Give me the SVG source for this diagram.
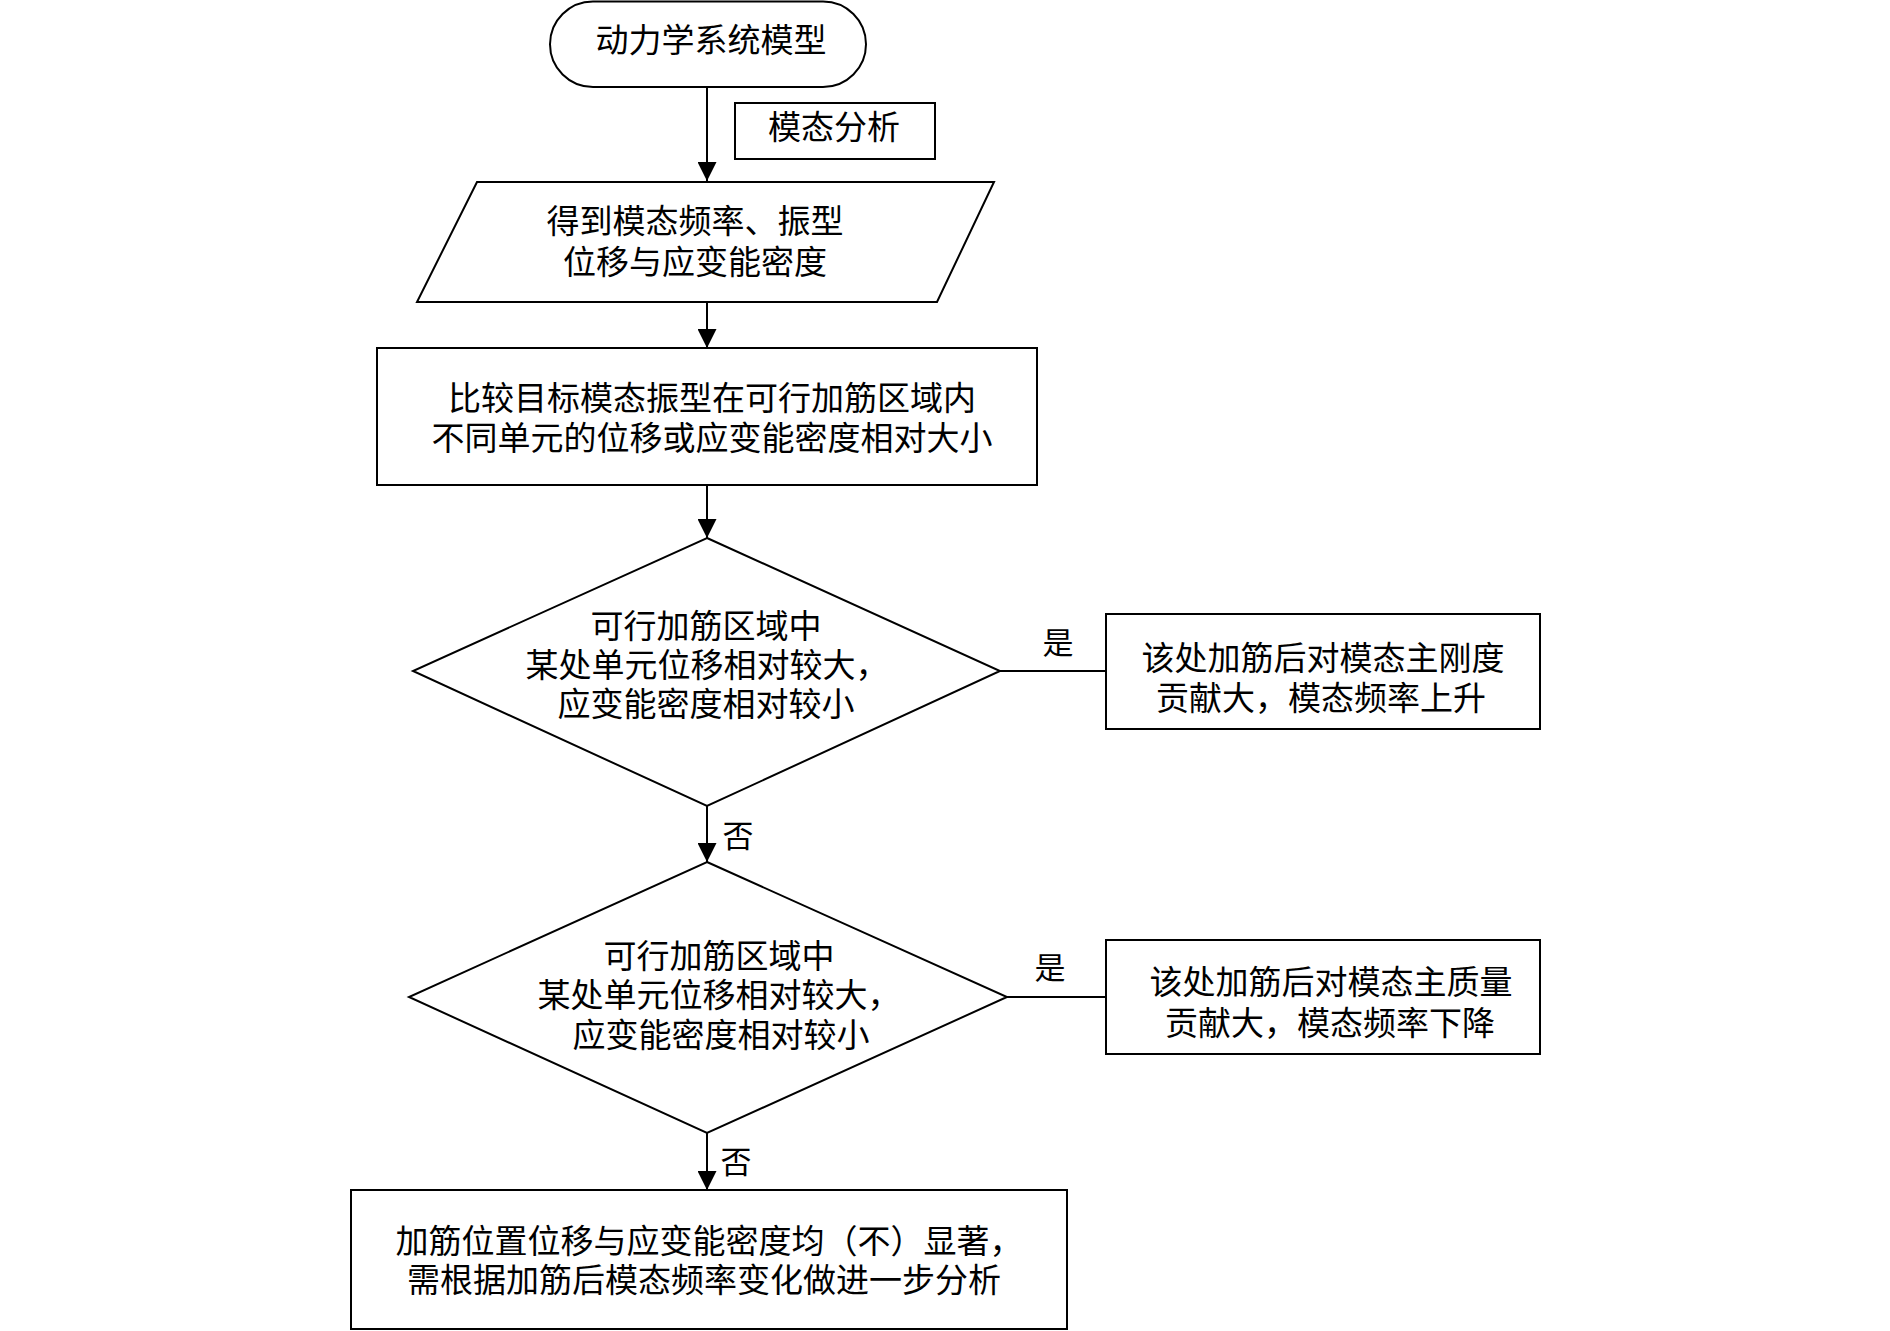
<svg xmlns="http://www.w3.org/2000/svg" width="1890" height="1331" viewBox="0 0 1890 1331">
<style>
.s{fill:#fff;stroke:#000;stroke-width:2}
.c{fill:none;stroke:#000;stroke-width:2}
text{font-family:"Liberation Serif","Noto Sans CJK SC",serif;font-size:33px;fill:#000;text-anchor:middle;dominant-baseline:central}
.lb{font-size:31px}
</style>
<defs>
<marker id="ah" markerUnits="userSpaceOnUse" markerWidth="19" markerHeight="19" refX="19" refY="9.5" orient="auto">
<path d="M0,0 L19,9.5 L0,19 z" fill="#000"/>
</marker>
</defs>
<rect width="1890" height="1331" fill="#fff"/>
<g id="connectors">
<line class="c" x1="707" y1="87" x2="707" y2="181" marker-end="url(#ah)"/>
<line class="c" x1="707" y1="302" x2="707" y2="348" marker-end="url(#ah)"/>
<line class="c" x1="707" y1="485" x2="707" y2="538" marker-end="url(#ah)"/>
<line class="c" x1="707" y1="806" x2="707" y2="862" marker-end="url(#ah)"/>
<line class="c" x1="707" y1="1133" x2="707" y2="1190" marker-end="url(#ah)"/>
<line class="c" x1="1000" y1="671" x2="1106" y2="671"/>
<line class="c" x1="1007" y1="997" x2="1106" y2="997"/>
<text class="lb" x="1058" y="643">是</text>
<text class="lb" x="738" y="836">否</text>
<text class="lb" x="1050" y="968">是</text>
<text class="lb" x="736" y="1162">否</text>
</g>
<g id="start">
<rect class="s" x="550" y="1.5" width="316" height="85.5" rx="43" ry="43"/>
<text x="711" y="41">动力学系统模型</text>
</g>
<g id="modal-label">
<rect class="s" x="735" y="103" width="200" height="56"/>
<text x="834" y="128">模态分析</text>
</g>
<g id="result">
<polygon class="s" points="477,182 994,182 937,302 417,302"/>
<text x="695" y="222">得到模态频率、振型</text>
<text x="695" y="263">位移与应变能密度</text>
</g>
<g id="compare">
<rect class="s" x="377" y="348" width="660" height="137"/>
<text x="712" y="399">比较目标模态振型在可行加筋区域内</text>
<text x="712" y="439">不同单元的位移或应变能密度相对大小</text>
</g>
<g id="decision1">
<polygon class="s" points="707,538 1000,671 707,806 413,671"/>
<text x="706" y="627">可行加筋区域中</text>
<text x="707" y="666">某处单元位移相对较大，</text>
<text x="706" y="705">应变能密度相对较小</text>
</g>
<g id="stiffness">
<rect class="s" x="1106" y="614" width="434" height="115"/>
<text x="1323" y="659">该处加筋后对模态主刚度</text>
<text x="1321" y="699">贡献大，模态频率上升</text>
</g>
<g id="decision2">
<polygon class="s" points="707,862 1007,997 707,1133 409,997"/>
<text x="719" y="957">可行加筋区域中</text>
<text x="719" y="996">某处单元位移相对较大，</text>
<text x="721" y="1036">应变能密度相对较小</text>
</g>
<g id="mass">
<rect class="s" x="1106" y="940" width="434" height="114"/>
<text x="1331" y="983">该处加筋后对模态主质量</text>
<text x="1330" y="1024">贡献大，模态频率下降</text>
</g>
<g id="final">
<rect class="s" x="351" y="1190" width="716" height="139"/>
<text x="709" y="1242">加筋位置位移与应变能密度均（不）显著，</text>
<text x="704" y="1281">需根据加筋后模态频率变化做进一步分析</text>
</g>
</svg>
